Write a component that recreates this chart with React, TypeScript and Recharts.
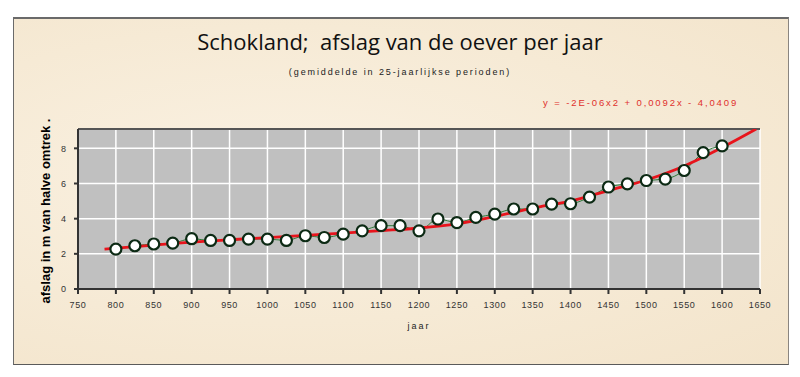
import { CartesianGrid, ComposedChart, Line, XAxis, YAxis } from 'recharts';

const years = [
  800, 825, 850, 875, 900, 925, 950, 975, 1000, 1025, 1050, 1075, 1100, 1125, 1150, 1175, 1200,
  1225, 1250, 1275, 1300, 1325, 1350, 1375, 1400, 1425, 1450, 1475, 1500, 1525, 1550, 1575, 1600,
];
const erosion = [
  2.27, 2.46, 2.56, 2.61, 2.86, 2.76, 2.76, 2.84, 2.84, 2.76, 3.03, 2.93, 3.12, 3.31, 3.6, 3.6, 3.31,
  3.98, 3.78, 4.07, 4.26, 4.55, 4.55, 4.83, 4.85, 5.23, 5.8, 5.98, 6.17, 6.25, 6.74, 7.76, 8.14,
];

const trendYears = [785, 850, 900, 950, 1000, 1050, 1100, 1150, 1200, 1250, 1300, 1350, 1400, 1450, 1500, 1550, 1600, 1645];
const trendValues = [2.27, 2.5, 2.67, 2.8, 2.92, 3.05, 3.18, 3.32, 3.47, 3.71, 4.12, 4.6, 5.0, 5.6, 6.2, 7.0, 8.05, 9.1];

const xTicks = [750, 800, 850, 900, 950, 1000, 1050, 1100, 1150, 1200, 1250, 1300, 1350, 1400, 1450, 1500, 1550, 1600, 1650];
const yTicks = [0, 2, 4, 6, 8];

const pointData = years.map((jaar, i) => ({ jaar, afslag: erosion[i] }));
const trendData = trendYears.map((jaar, i) => ({ jaar, trend: trendValues[i] }));

const sans = '"Liberation Sans", Arial, sans-serif';

function Marker(props: any) {
  const { cx, cy } = props;
  if (cx == null || cy == null) return null;
  return <circle cx={cx} cy={cy} r={5.5} fill="#ffffff" stroke="#0c2a14" strokeWidth={2.2} />;
}

export default function App() {
  return (
    <div
      style={{
        position: 'absolute',
        left: 0,
        top: 0,
        width: 800,
        height: 377,
        background: '#ffffff',
      }}
    >
      <div
        style={{
          position: 'absolute',
          left: 13,
          top: 17,
          width: 774,
          height: 345,
          background:
            'radial-gradient(ellipse at 35% 45%, #faf1e2 0%, #f6ead5 55%, #f3e4cb 100%)',
          borderTop: '2px solid #6a6a6a',
          borderLeft: '1px solid #6a6a6a',
          borderRight: '1px solid #8a8580',
          borderBottom: '1px solid #5a5a5a',
        }}
      />
      <div
        style={{
          position: 'absolute',
          left: 0,
          width: 800,
          top: 26,
          textAlign: 'center',
          fontFamily: '"Open Sans", "Noto Sans", sans-serif',
          fontSize: 22,
          color: '#111',
          whiteSpace: 'pre',
        }}
      >
        {'Schokland;  afslag van de oever per jaar'}
      </div>
      <div
        style={{
          position: 'absolute',
          left: 0,
          width: 800,
          top: 67,
          textAlign: 'center',
          fontFamily: sans,
          fontSize: 9,
          letterSpacing: 1.9,
          color: '#222',
        }}
      >
        (gemiddelde in 25-jaarlijkse perioden)
      </div>
      <div
        style={{
          position: 'absolute',
          left: 543,
          top: 97,
          fontFamily: sans,
          fontSize: 9.5,
          letterSpacing: 1.9,
          color: '#e0302c',
          whiteSpace: 'nowrap',
        }}
      >
        y = -2E-06x2 + 0,0092x - 4,0409
      </div>
      <div style={{ position: 'absolute', left: 0, top: 0 }}>
        <ComposedChart width={800} height={377} margin={{ top: 129, right: 40, bottom: 68, left: 48 }}>
          <CartesianGrid
            stroke="#ffffff"
            strokeWidth={1.5}
            fill="#c0c0c0"
            horizontal
            vertical
          />
          <XAxis
            dataKey="jaar"
            type="number"
            domain={[750, 1650]}
            ticks={xTicks}
            interval={0}
            allowDataOverflow
            stroke="#333"
            strokeWidth={2}
            tickSize={5}
            tickMargin={8}
            tick={{ fontFamily: sans, fontSize: 9, letterSpacing: 0.6, fill: '#333' }}
            height={20}
            label={{
              value: 'jaar',
              position: 'insideBottom',
              offset: -20,
              style: { fontFamily: sans, fontSize: 9, letterSpacing: 2, fill: '#222' },
            }}
          />
          <YAxis
            type="number"
            domain={[0, 9.1]}
            ticks={yTicks}
            allowDataOverflow
            stroke="#333"
            strokeWidth={2}
            tickSize={4}
            tickMargin={8}
            width={30}
            tick={{ fontFamily: sans, fontSize: 9, fill: '#333' }}
          />
          <Line
            data={pointData}
            dataKey="afslag"
            type="monotone"
            stroke="#2f7a36"
            strokeWidth={1}
            dot={<Marker />}
            activeDot={false}
            isAnimationActive={false}
          />
          <Line
            data={trendData}
            dataKey="trend"
            type="monotone"
            stroke="#e8141c"
            strokeWidth={2.8}
            dot={false}
            activeDot={false}
            isAnimationActive={false}
          />
          <line x1={78} y1={129} x2={760} y2={129} stroke="#555" strokeWidth={2} />
          <text
            transform="translate(50,211) rotate(-90)"
            textAnchor="middle"
            fontFamily={sans}
            fontWeight="bold"
            fontSize={13}
            fill="#000"
          >
            afslag in m van halve omtrek .
          </text>
        </ComposedChart>
      </div>
    </div>
  );
}
